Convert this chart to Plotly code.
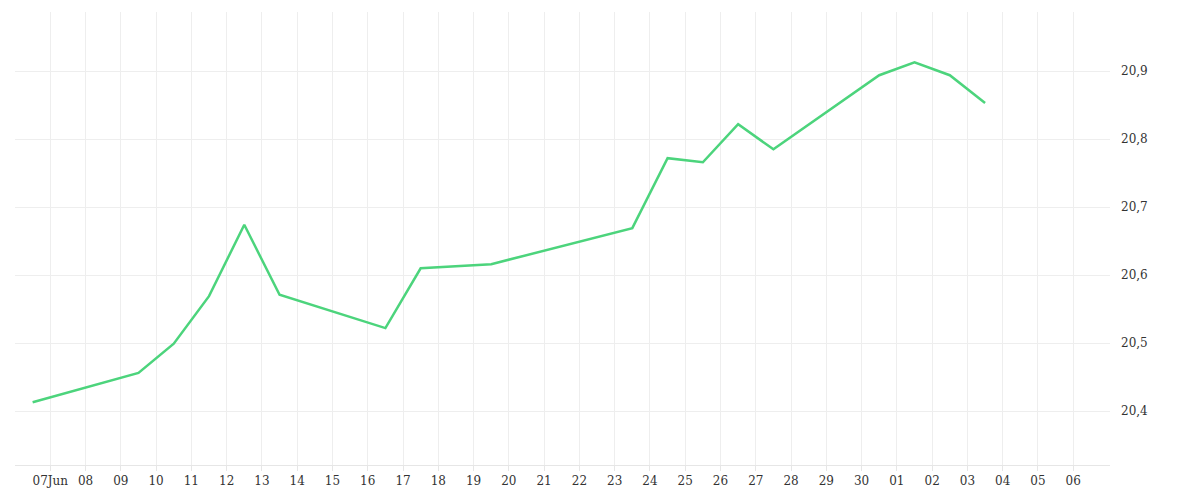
import plotly.graph_objects as go
import pandas as pd

dates = ["2024-06-06 12:00","2024-06-09 12:00","2024-06-10 12:00","2024-06-11 12:00","2024-06-12 12:00",
         "2024-06-13 12:00","2024-06-16 12:00","2024-06-17 12:00","2024-06-19 12:00","2024-06-23 12:00",
         "2024-06-24 12:00","2024-06-25 12:00","2024-06-26 12:00","2024-06-27 12:00","2024-06-30 12:00",
         "2024-07-01 12:00","2024-07-02 12:00","2024-07-03 12:00"]
values = [20.413,20.456,20.499,20.569,20.674,20.571,20.522,20.610,20.616,20.669,
          20.772,20.766,20.822,20.785,20.894,20.913,20.894,20.853]

tick_dates = pd.date_range("2024-06-07", "2024-07-06", freq="D")
tick_text = ["07Jun"] + [d.strftime("%d") for d in tick_dates[1:]]

fig = go.Figure(go.Scatter(x=pd.to_datetime(dates), y=values, mode="lines",
                           line=dict(color="#4cd47c", width=2.5), hoverinfo="x+y"))
fig.update_layout(
    width=1200, height=500, margin=dict(l=7, r=98, t=4, b=43),
    plot_bgcolor="white", paper_bgcolor="white", showlegend=False,
    separators=", ",
    font=dict(family="DejaVu Serif", size=12, color="#333"),
)
fig.update_xaxes(range=["2024-06-06 00:00", "2024-07-07 01:00"], tickvals=tick_dates, ticktext=tick_text,
                 showgrid=True, gridcolor="#eeeeee", ticks="outside", ticklen=5, tickcolor="#e6e6e6",
                 showline=True, linecolor="#e6e6e6", zeroline=False, automargin=False)
fig.update_yaxes(side="right", range=[20.3206, 20.987], dtick=0.1, tickformat=".1f",
                 showgrid=True, gridcolor="#eeeeee", zeroline=False, ticklabelstandoff=10, automargin=False)
fig.write_html("out.html")
